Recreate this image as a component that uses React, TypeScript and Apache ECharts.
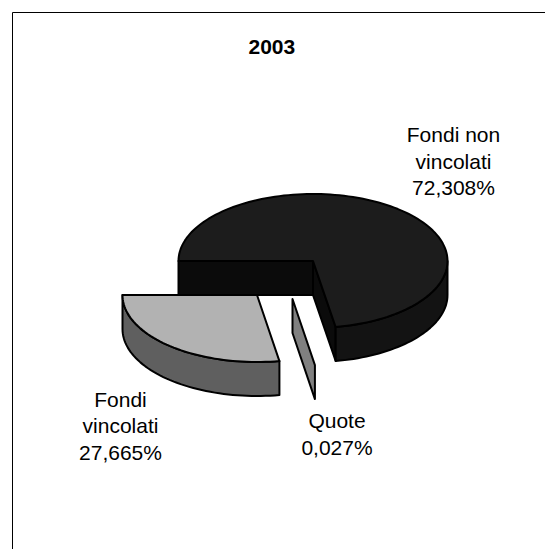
import React, { useEffect, useRef } from "react";
import * as echarts from "echarts";

const titleText = "2003";
const sliceNames = ["Fondi non\nvincolati", "Quote", "Fondi\nvincolati"];
const sliceValues = [72.308, 0.027, 27.665];
const topColors = ["#1c1c1c", "#808080", "#b2b2b2"];
const wallColors = ["#131313", "#808080", "#5f5f5f"];
const cutColors = ["#0b0b0b", "#808080", "#5f5f5f"];
const centerOffsets = [[313, 261], [292.5, 299], [257, 295]];
const labelPositions = [[453.5, 161], [337, 434], [120.5, 425.5]];

const RX = 134.5;
const RY = 67;
const DEPTH = 34;
const START_DEG = 180;
const FONT = "'Liberation Sans', Arial, sans-serif";

function pt(cx: number, cy: number, deg: number): number[] {
  const a = (deg * Math.PI) / 180;
  return [cx + RX * Math.cos(a), cy + RY * Math.sin(a)];
}

function arcPts(cx: number, cy: number, from: number, to: number): number[][] {
  const n = Math.max(2, Math.ceil(Math.abs(to - from) / 2));
  const out: number[][] = [];
  for (let i = 0; i <= n; i++) out.push(pt(cx, cy, from + ((to - from) * i) / n));
  return out;
}

export default function App() {
  const ref = useRef<HTMLDivElement>(null);
  useEffect(() => {
    const chart = echarts.init(ref.current!, undefined, { renderer: "svg" });
    const total = sliceValues.reduce((a, b) => a + b, 0);
    const lineStyle = { stroke: "#000", lineWidth: 2, lineJoin: "round" as const };

    const renderItem = (params: any, api: any) => {
      const i = params.dataIndex;
      const before = sliceValues.slice(0, i).reduce((a, b) => a + b, 0);
      const a0 = START_DEG + (before / total) * 360;
      const a1 = a0 + (api.value(0) / total) * 360;
      const [cx, cy] = centerOffsets[i];
      const children: any[] = [];
      const add = (points: number[][], fill: string) =>
        children.push({ type: "polygon", shape: { points }, style: { ...lineStyle, fill } });

      // start cut face of the large slice
      if (i === 0) {
        const p = pt(cx, cy, a0);
        add([[cx, cy], p, [p[0], p[1] + DEPTH], [cx, cy + DEPTH]], cutColors[i]);
      }
      // end cut face
      if (i < 2) {
        const p = pt(cx, cy, a1);
        add([[cx, cy], p, [p[0], p[1] + DEPTH], [cx, cy + DEPTH]], cutColors[i]);
      }
      // outer wall: only the front part, angles 0..180 (mod 360)
      for (const k of [0, 360]) {
        const from = Math.max(a0, k);
        const to = Math.min(a1, k + 180);
        if (to > from && i !== 1) {
          const upper = arcPts(cx, cy, from, to);
          const lower = upper.map((q) => [q[0], q[1] + DEPTH]).reverse();
          add([...upper, ...lower], wallColors[i]);
        }
      }
      // top face
      if (i !== 1) add([[cx, cy], ...arcPts(cx, cy, a0, a1)], topColors[i]);

      const [lx, ly] = labelPositions[i];
      const label = `${sliceNames[i]}\n${api.value(0).toFixed(3).replace(".", ",")}%`;
      children.push({
        type: "text",
        x: lx,
        y: ly,
        style: {
          text: label,
          fill: "#000",
          font: `21px ${FONT}`,
          align: "center",
          verticalAlign: "middle",
          lineHeight: 26.5,
        },
      });
      return { type: "group", children };
    };

    chart.setOption({
      animation: false,
      backgroundColor: "#fff",
      title: {
        text: titleText,
        left: 243.5,
        top: 31,
        textStyle: { fontFamily: FONT, fontSize: 21, fontWeight: "bold", color: "#000" },
      },
      graphic: [
        {
          type: "polyline",
          shape: { points: [[12.5, 549], [12.5, 12.5], [545, 12.5]] },
          style: { stroke: "#000", lineWidth: 1, fill: "none" },
        },
      ],
      series: [
        {
          type: "custom",
          coordinateSystem: "none",
          data: sliceValues.map((v) => [v]),
          renderItem,
          silent: true,
        },
      ],
    });
    return () => chart.dispose();
  }, []);
  return (
    <div
      ref={ref}
      style={{ position: "absolute", left: 0, top: 0, width: 545, height: 549 }}
    />
  );
}
